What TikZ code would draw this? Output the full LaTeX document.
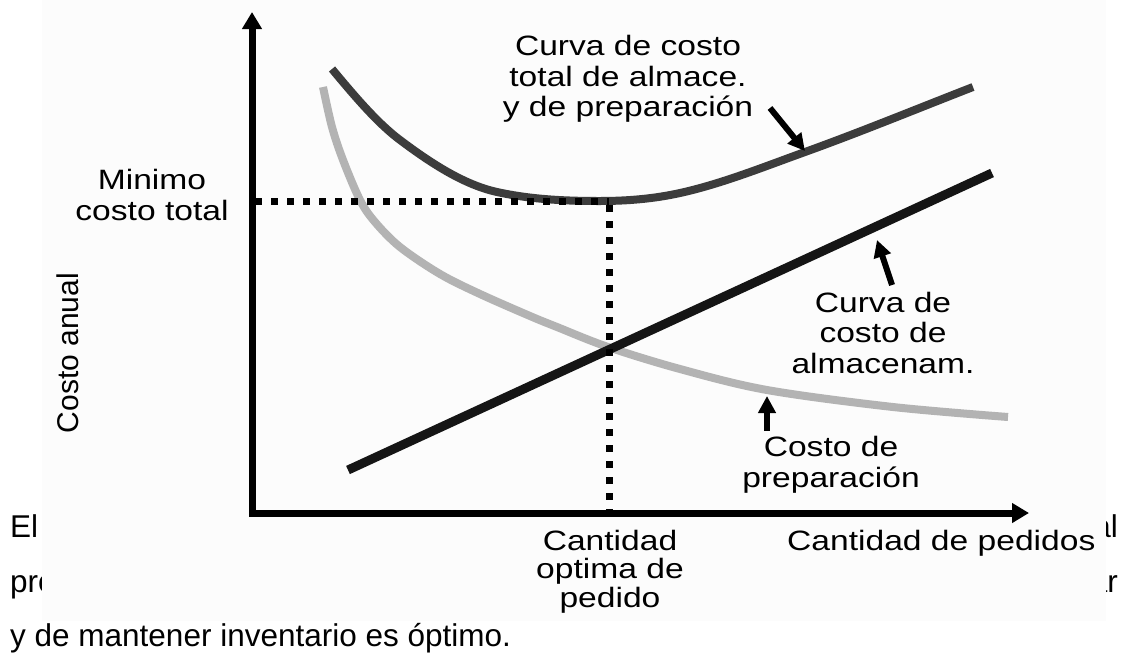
\documentclass[tikz,border=0pt]{standalone}
\usepackage{fontspec}
\setmainfont{Liberation Sans}
\newfontfamily\widefont[FakeStretch=1.2]{Liberation Sans}
\usetikzlibrary{arrows.meta}
\definecolor{totalc}{HTML}{3C3C3C}
\definecolor{prepc}{HTML}{B3B3B3}
\definecolor{holdc}{HTML}{151515}
\definecolor{coverc}{HTML}{FCFCFC}
\begin{document}
\begin{tikzpicture}[x=1pt,y=-1pt,
  lbl/.style={font=\widefont\fontsize{28}{30.5}\selectfont, align=center, inner sep=0pt},
  para/.style={font=\fontsize{31.5}{36}\selectfont, inner sep=0pt, anchor=base west},
  parar/.style={para, anchor=base east},
  axisline/.style={line width=7pt, line join=miter, {Triangle[length=17pt,width=19pt]}-{Triangle[length=17pt,width=19pt]}},
  pointer/.style={line width=6pt, -{Triangle[length=17pt,width=17pt]}},
  dotline/.style={line width=7pt, dash pattern=on 7pt off 9pt},
  curve/.style={line width=8pt},
]
\useasboundingbox (0,0) rectangle (1132,654);
\fill[white] (0,0) rectangle (1132,654);
% paragraph text behind the picture
\node[para] (t1) at (10,537) {El};
\node[para] (t2) at (10,592) {pro};
\node[para] (t3) at (10,646) {y de mantener inventario es óptimo.};
\node[parar] (t4) at (1118,537) {al};
\node[parar] (t5) at (1118,592) {ar};
% the picture area
\fill[coverc] (42,0) rectangle (1106,621);
% curves
\draw[curve, prepc] plot[smooth, tension=0.55] coordinates {(323,87) (332,127) (343,160) (360,200) (375,222) (400,247) (440,274) (480,294) (530,316) (557,327) (608,347) (680,369) (767,390) (893,407) (1008,417)};
\draw[curve, totalc] (332,69) .. controls (354.67,96.2) and (377.33,123) .. (400,140)
  .. controls (432.33,164.25) and (464.67,184.9) .. (497,192)
  .. controls (531.33,199.55) and (565.67,201) .. (600,201)
  .. controls (626.67,201) and (653.33,198.9) .. (680,193)
  .. controls (721.67,183.8) and (763.33,167) .. (805,152)
  .. controls (861,131.8) and (917,108.8) .. (973,87);
\draw[line width=9pt, holdc] (348,470) -- (992,173);
% dotted guides
\coordinate (mt) at (255,201);
\coordinate (opt) at (609,201);
\coordinate (ox) at (609,513);
\draw[dotline] (mt) -- (opt);
\draw[dotline] ([yshift=-4pt]opt) -- (ox);
% axes
\coordinate (ytop) at (252,12);
\coordinate (orig) at (252,513);
\coordinate (xend) at (1029,513);
\draw[axisline] (ytop) -- (orig) -- (xend);
% labels
\node[lbl] (ltot) at (628,79) {Curva de costo\\total de almace.\\y de preparación};
\node[lbl] (lmin) at (152,195) {Minimo\\costo total};
\node[lbl] (lalm) at (883,332.5) {Curva de\\costo de\\almacenam.};
\node[lbl] (lprep) at (831,465) {Costo de\\preparación};
\node[lbl, font=\widefont\fontsize{28}{28.5}\selectfont] (lopt) at (610,571.5) {Cantidad\\optima de\\pedido};
\node[lbl, anchor=base west] (lx) at (787,550) {Cantidad de pedidos};
\node[inner sep=0pt, font=\fontsize{30}{34}\selectfont, rotate=90, anchor=base] (ly) at (78,353) {Costo anual};
% pointers
\coordinate (p1s) at (770,108);
\coordinate (p1e) at (805,151);
\coordinate (p2s) at (892,285);
\coordinate (p2e) at (877,240);
\coordinate (p3s) at (767,431);
\coordinate (p3e) at (767,396);
\draw[pointer] (p1s) -- (p1e);
\draw[pointer] (p2s) -- (p2e);
\draw[pointer] (p3s) -- (p3e);
\end{tikzpicture}
\end{document}
